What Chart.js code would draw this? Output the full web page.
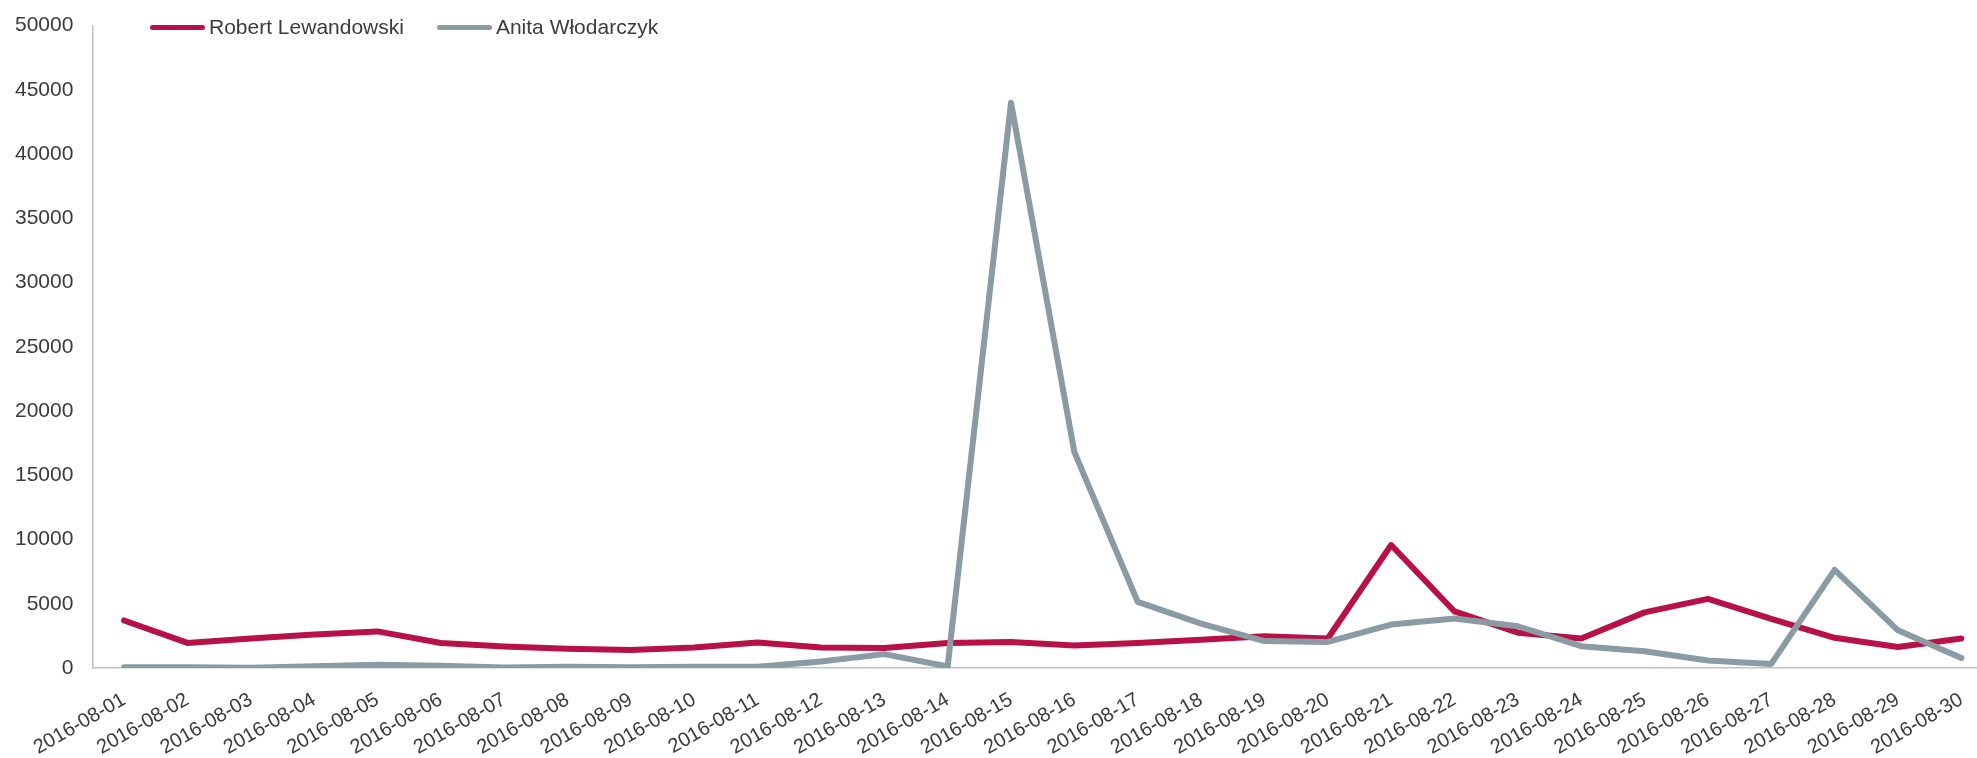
<!DOCTYPE html>
<html>
<head>
<meta charset="utf-8">
<script src="https://cdn.jsdelivr.net/npm/chart.js@4.4.1/dist/chart.umd.min.js"></script>
<style>
    html, body { margin: 0; padding: 0; background: #fff; overflow: hidden; }
    #wrap { position: relative; margin-left: -21px; margin-top: -6px; width: 2016px; height: 764px; }
    #legend { position: absolute; top: 15px; left: 150px; display: flex; font: 21px "Liberation Sans", Arial, sans-serif; color: #3b3b3b; }
    .item { display: flex; align-items: center; margin-right: 33px; }
    .swatch { width: 55px; height: 5px; border-radius: 3px; margin-right: 4px; }
</style>
</head>
<body>
<div id="wrap">
    <canvas id="lineChart"></canvas>
</div>
<div id="legend"></div>
<script>
const dates = [
    '2016-08-01', '2016-08-02', '2016-08-03', '2016-08-04', '2016-08-05', '2016-08-06',
    '2016-08-07', '2016-08-08', '2016-08-09', '2016-08-10', '2016-08-11', '2016-08-12',
    '2016-08-13', '2016-08-14', '2016-08-15', '2016-08-16', '2016-08-17', '2016-08-18',
    '2016-08-19', '2016-08-20', '2016-08-21', '2016-08-22', '2016-08-23', '2016-08-24',
    '2016-08-25', '2016-08-26', '2016-08-27', '2016-08-28', '2016-08-29', '2016-08-30'
];

const lewandowski = [
    3700, 1950, 2300, 2600, 2850, 1950, 1680, 1500, 1400, 1600,
    1990, 1600, 1550, 1950, 2020, 1760, 1950, 2200, 2470, 2300,
    9570, 4400, 2750, 2300, 4330, 5380, 3830, 2350, 1630, 2300
];

const wlodarczyk = [
    60, 60, 20, 130, 250, 180, 30, 90, 60, 90,
    90, 500, 1080, 120, 44000, 16800, 5150, 3450, 2100, 2030,
    3380, 3850, 3250, 1700, 1300, 580, 320, 7640, 2930, 780
];

const yTicks = { min: 0, max: 50000, step: 5000 };

const seriesNames = ['Robert Lewandowski', 'Anita Włodarczyk'];
const seriesColors = ['#b81148', '#8a9ba4'];

const textColor = '#3b3b3b';
const axisColor = '#bfc4c8';
const fontFamily = '"Liberation Sans", Arial, sans-serif';

function buildLegend() {
    const box = document.getElementById('legend');
    seriesNames.forEach((name, i) => {
        const item = document.createElement('div');
        item.className = 'item';
        const sw = document.createElement('span');
        sw.className = 'swatch';
        sw.style.background = seriesColors[i];
        const label = document.createElement('span');
        label.textContent = name;
        item.appendChild(sw);
        item.appendChild(label);
        box.appendChild(item);
    });
}

function initChart() {
    const ctx = document.getElementById('lineChart').getContext('2d');

    new Chart(ctx, {
        type: 'line',
        data: {
            labels: dates,
            datasets: [
                {
                    label: seriesNames[0],
                    data: lewandowski,
                    borderColor: seriesColors[0],
                    backgroundColor: seriesColors[0],
                    order: 1
                },
                {
                    label: seriesNames[1],
                    data: wlodarczyk,
                    borderColor: seriesColors[1],
                    backgroundColor: seriesColors[1],
                    order: 0
                }
            ]
        },
        options: {
            responsive: true,
            maintainAspectRatio: false,
            animation: false,
            layout: { padding: { top: 17, left: 17, right: 2, bottom: 0 } },
            elements: {
                point: { radius: 0, hoverRadius: 0 },
                line: { borderWidth: 6, tension: 0, borderCapStyle: 'round', borderJoinStyle: 'round' }
            },
            plugins: {
                legend: { display: false },
                tooltip: { enabled: false }
            },
            scales: {
                x: {
                    offset: true,
                    grid: { display: false, drawTicks: false },
                    border: { display: true, color: axisColor, width: 1.5 },
                    ticks: {
                        color: textColor,
                        font: { family: fontFamily, size: 20 },
                        padding: 20,
                        autoSkip: false,
                        minRotation: 30,
                        maxRotation: 30
                    },
                    afterFit: (scale) => { scale.height = 90; }
                },
                y: {
                    min: yTicks.min,
                    max: yTicks.max,
                    grid: { display: false, drawTicks: false },
                    border: { display: true, color: axisColor, width: 1.5 },
                    ticks: {
                        color: textColor,
                        font: { family: fontFamily, size: 21 },
                        padding: 19,
                        stepSize: yTicks.step,
                        callback: (v) => String(v)
                    }
                }
            }
        }
    });
}

buildLegend();
initChart();
</script>
</body>
</html>
